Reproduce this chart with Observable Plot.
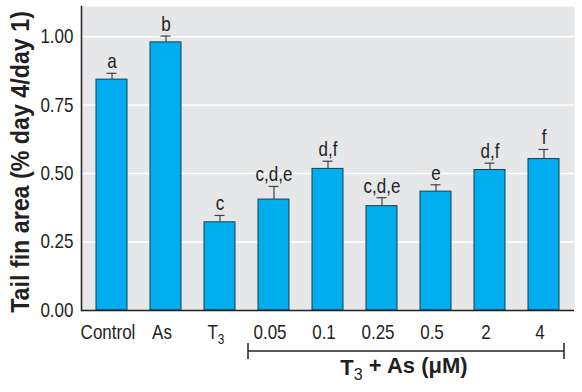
<!DOCTYPE html>
<html>
<head>
<meta charset="utf-8">
<script src="https://cdn.jsdelivr.net/npm/d3@7"></script>
<script src="https://cdn.jsdelivr.net/npm/@observablehq/plot@0.6"></script>
<style>
  html, body { margin: 0; padding: 0; background: #fff; }
  #chart svg { display: block; }
</style>
</head>
<body>
<div id="chart"></div>
<script>
const categories = ["Control", "As", "T3", "0.05", "0.1", "0.25", "0.5", "2", "4"];
const means = [0.843, 0.979, 0.322, 0.405, 0.517, 0.381, 0.434, 0.513, 0.553];
const errTops = [0.866, 1.002, 0.347, 0.453, 0.545, 0.412, 0.459, 0.538, 0.588];
const letters = ["a", "b", "c", "c,d,e", "d,f", "c,d,e", "e", "d,f", "f"];
const yTicks = [0, 0.25, 0.5, 0.75, 1.0];
const groupLabel = "T3 + As (μM)";
const groupStart = "0.05";
const groupEnd = "4";

const data = categories.map((c, i) => ({cat: c, v: means[i], e: errTops[i], l: letters[i]}));
const FONT = "'Liberation Sans', Arial, sans-serif";
const SQUEEZE = 0.85;

const chart = Plot.plot({
  width: 582,
  height: 392,
  marginLeft: 81,
  marginRight: 8,
  marginTop: 6,
  marginBottom: 82,
  style: {fontFamily: FONT, fontSize: "20px", color: "#231f20", background: "#fff"},
  x: {domain: categories, paddingInner: 0.42, paddingOuter: 0.21, label: null},
  y: {domain: [0, 1.11], label: null},
  marks: [
    Plot.frame({fill: "#e6e7e8", stroke: "none"}),
    Plot.ruleY(yTicks.filter(d => d > 0), {stroke: "#fff", strokeWidth: 1.5}),
    Plot.axisY({ticks: yTicks, tickFormat: d3.format(".2f"), tickSize: 0, tickPadding: 8, fontSize: 20, label: null}),
    Plot.axisX({tickSize: 0, tickPadding: 14, fontSize: 20, dx: -4, label: null}),
    Plot.barY(data, {x: "cat", y: "v", fill: "#00aeef", stroke: "#1d3c4c", strokeWidth: 1}),
    Plot.ruleX(data, {x: "cat", y1: "v", y2: "e", stroke: "#444", strokeWidth: 1.2}),
    Plot.tickY(data, {x: "cat", y: "e", stroke: "#444", strokeWidth: 1.2, insetLeft: 10.5, insetRight: 10.5}),
    Plot.text(data, {x: "cat", y: "e", text: "l", dy: -5, lineAnchor: "bottom", fontSize: 20, fill: "#231f20"}),
    Plot.ruleY([0], {stroke: "#231f20", strokeWidth: 1.5}),
    Plot.frame({anchor: "left", stroke: "#231f20", strokeWidth: 1.5})
  ]
});

const svg = d3.select(chart);
// condensed look + subscript for T3 tick label
svg.selectAll("text").each(function() {
  const t = d3.select(this);
  const tr = t.attr("transform") || "";
  t.attr("transform", `${tr} scale(${SQUEEZE},1)`);
  if (t.text() === "T3") {
    t.text("");
    t.append("tspan").text("T");
    t.append("tspan").attr("dy", "0.35em").attr("font-size", "14px").text("3");
  }
});

// group bracket below the axis
const xs = chart.scale("x");
const bw = xs.bandwidth;
const x1 = xs.apply(groupStart) - 10;
const x2 = xs.apply(groupEnd) + bw + 5;
const yb = 392 - 82 + 41;
const g = svg.append("g").attr("stroke", "#231f20").attr("stroke-width", 1.5);
g.append("line").attr("x1", x1).attr("x2", x2).attr("y1", yb).attr("y2", yb);
g.append("line").attr("x1", x1).attr("x2", x1).attr("y1", yb - 8).attr("y2", yb + 8);
g.append("line").attr("x1", x2).attr("x2", x2).attr("y1", yb - 8).attr("y2", yb + 8);

const parts = groupLabel.split("3");
const lab = svg.append("text")
  .attr("transform", `translate(${(x1 + x2) / 2 - 2},${yb + 24})`)
  .attr("text-anchor", "middle")
  .attr("font-family", FONT).attr("font-weight", "bold").attr("font-size", "22px").attr("fill", "#231f20");
lab.append("tspan").text(parts[0]);
lab.append("tspan").attr("dy", "0.3em").attr("font-size", "16px").attr("font-weight", "normal").text("3");
lab.append("tspan").attr("dy", "-0.3em").text(parts[1]);

// y axis title
svg.append("text")
  .attr("transform", `translate(20,162) rotate(-90) scale(0.93,1)`)
  .attr("text-anchor", "middle").attr("dy", "0.35em")
  .attr("font-family", FONT).attr("font-weight", "bold").attr("font-size", "25px").attr("fill", "#231f20")
  .text("Tail fin area (% day 4/day 1)");

document.getElementById("chart").appendChild(chart);
</script>
</body>
</html>
